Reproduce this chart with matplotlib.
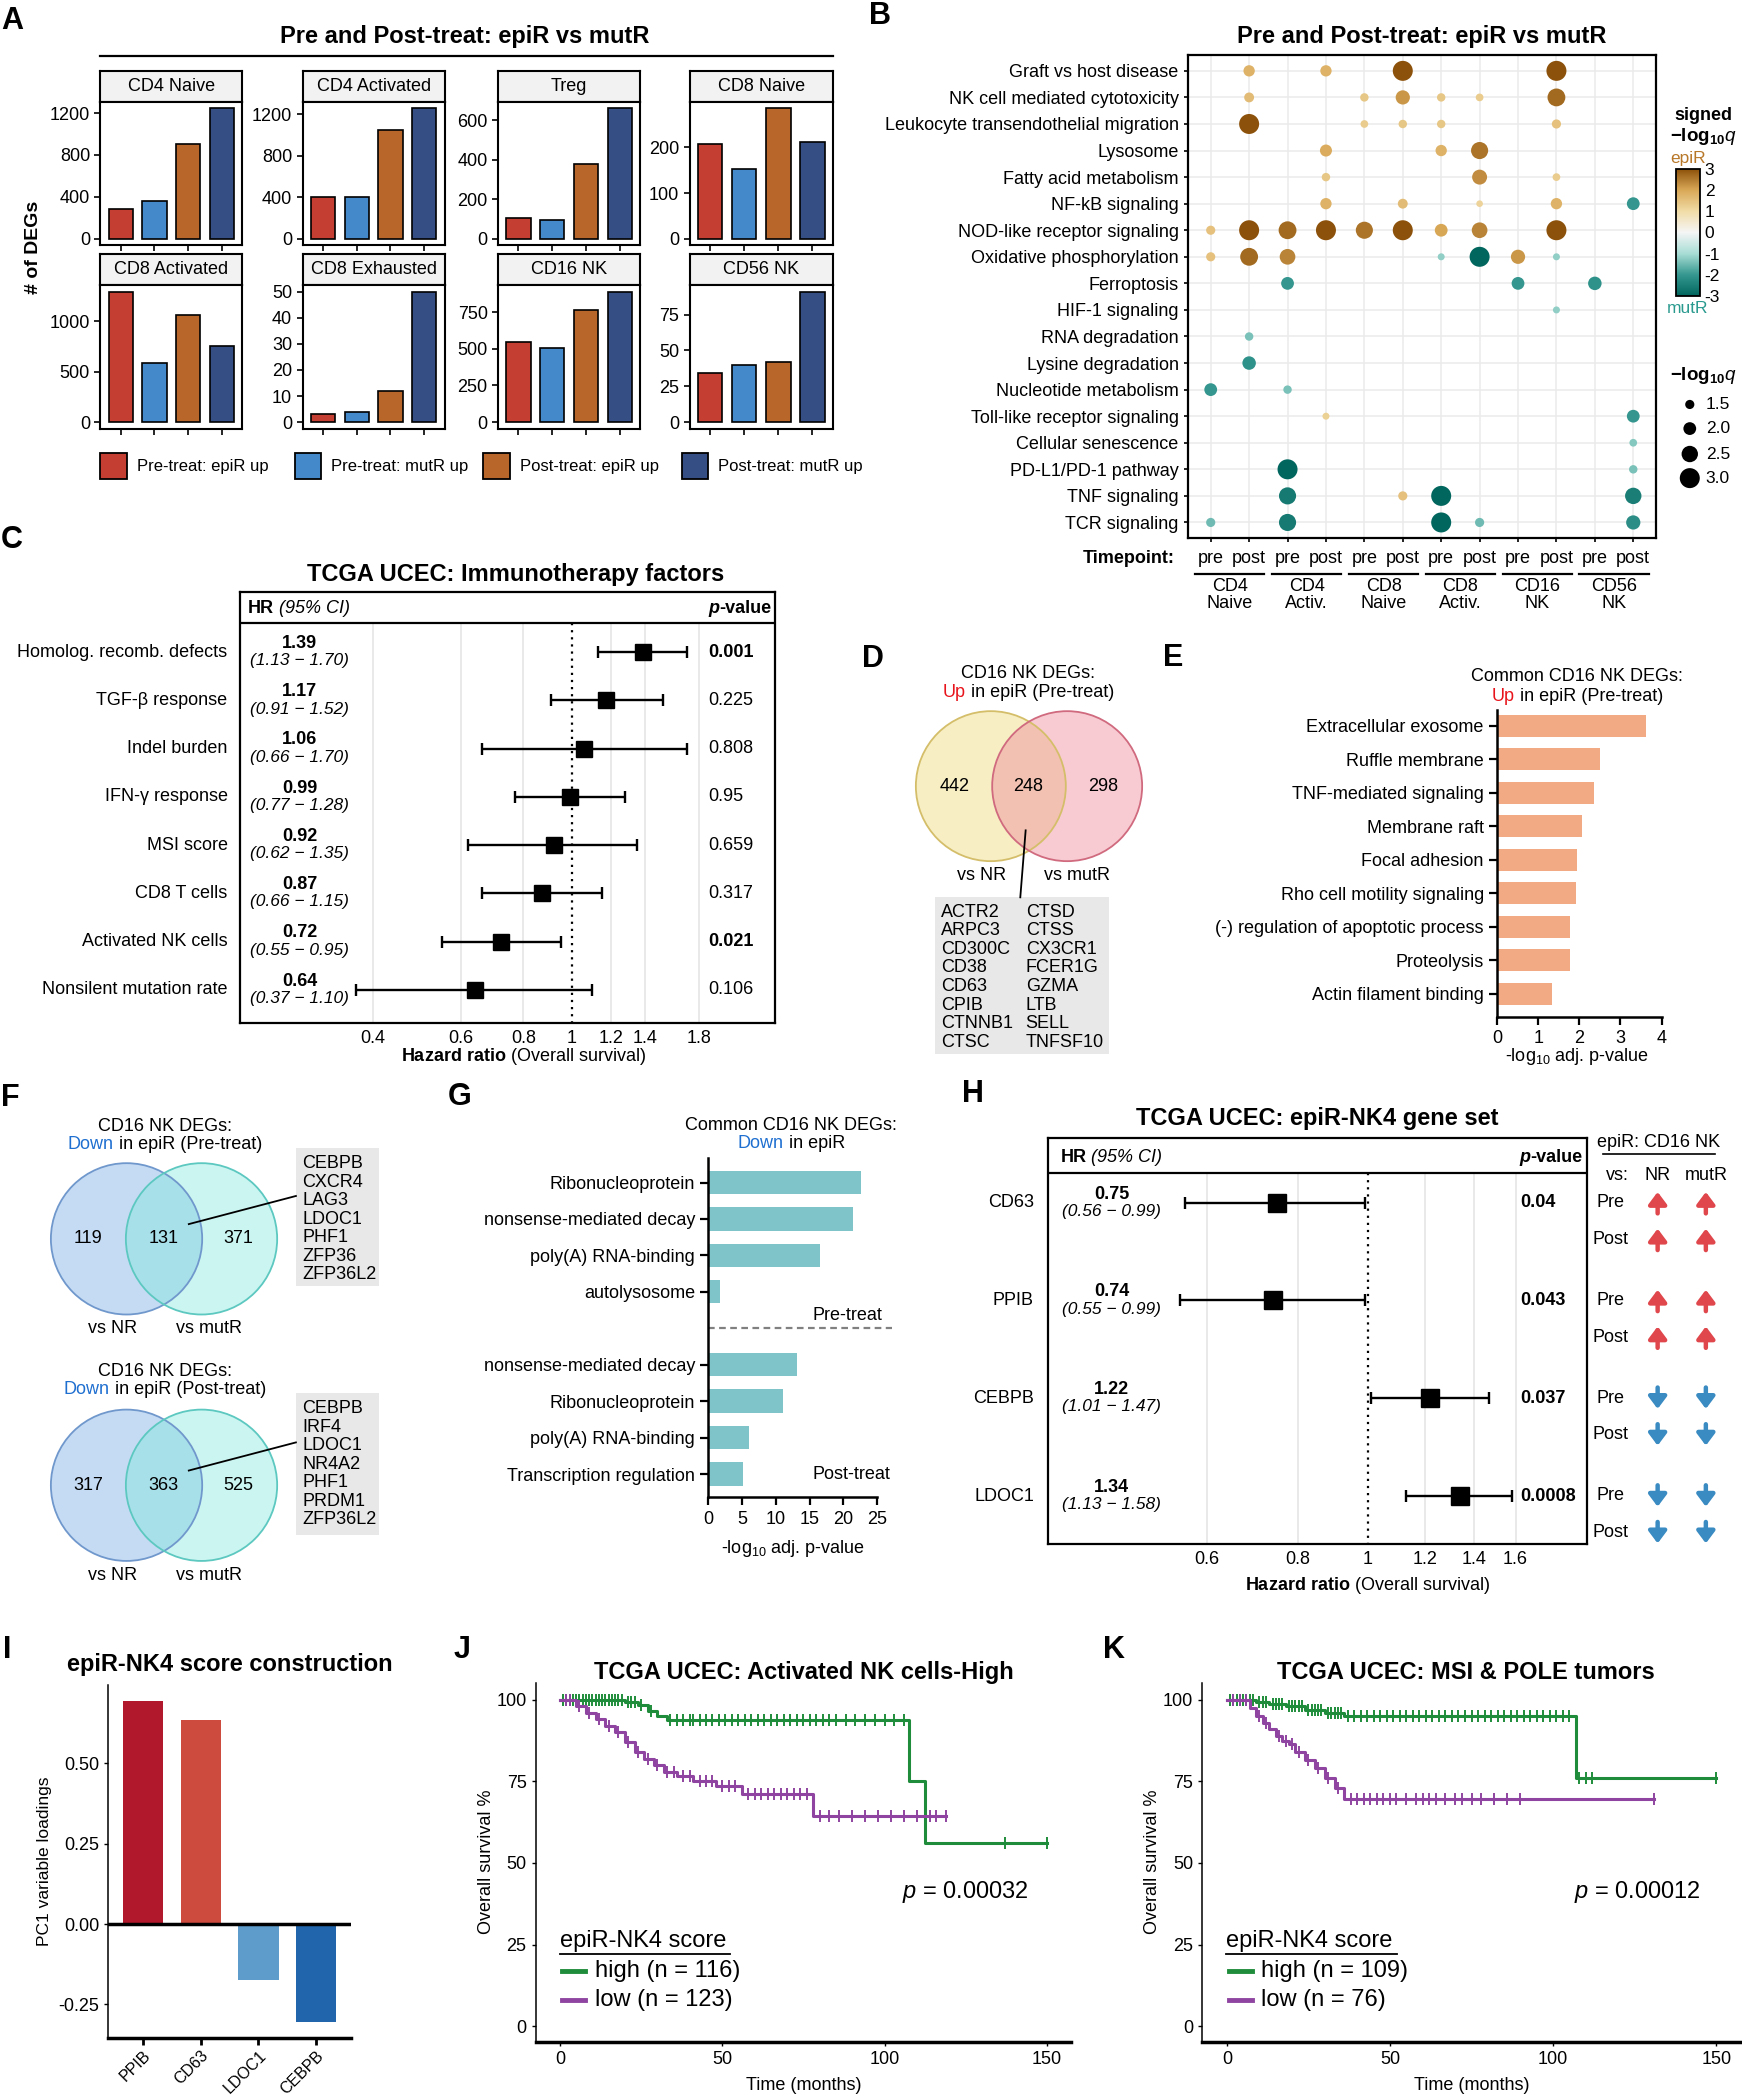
import numpy as np
import matplotlib
matplotlib.use('Agg')
import matplotlib.pyplot as plt
from matplotlib.patches import Circle, Rectangle
from matplotlib.colors import LinearSegmentedColormap, Normalize
from matplotlib.cm import ScalarMappable
from matplotlib.ticker import NullLocator

plt.rcParams['font.family'] = ['Liberation Sans', 'DejaVu Sans']
plt.rcParams['mathtext.fontset'] = 'custom'
plt.rcParams['mathtext.rm'] = 'Liberation Sans'
plt.rcParams['mathtext.it'] = 'Liberation Sans:italic'
plt.rcParams['mathtext.bf'] = 'Liberation Sans:bold'
plt.rcParams['axes.unicode_minus'] = False

# ---------------- DATA ----------------
# A
a_cells = ['CD4 Naive', 'CD4 Activated', 'Treg', 'CD8 Naive',
           'CD8 Activated', 'CD8 Exhausted', 'CD16 NK', 'CD56 NK']
a_groups = ['Pre-treat: epiR up', 'Pre-treat: mutR up', 'Post-treat: epiR up', 'Post-treat: mutR up']
pre_epiR_up = [287, 396, 103, 207, 1292, 3, 549, 34]
pre_mutR_up = [360, 405, 95, 153, 588, 4, 503, 40]
post_epiR_up = [903, 1045, 376, 286, 1063, 12, 764, 42]
post_mutR_up = [1245, 1255, 661, 213, 754, 50, 890, 91]
a_yticks = [[0, 400, 800, 1200], [0, 400, 800, 1200], [0, 200, 400, 600], [0, 100, 200],
            [0, 500, 1000], [0, 10, 20, 30, 40, 50], [0, 250, 500, 750], [0, 25, 50, 75]]

# B
b_pathways = ['Graft vs host disease', 'NK cell mediated cytotoxicity',
              'Leukocyte transendothelial migration', 'Lysosome', 'Fatty acid metabolism',
              'NF-kB signaling', 'NOD-like receptor signaling', 'Oxidative phosphorylation',
              'Ferroptosis', 'HIF-1 signaling', 'RNA degradation', 'Lysine degradation',
              'Nucleotide metabolism', 'Toll-like receptor signaling', 'Cellular senescence',
              'PD-L1/PD-1 pathway', 'TNF signaling', 'TCR signaling']
b_timepoints = ['pre', 'post'] * 6
b_celltypes = ['CD4\nNaive', 'CD4\nActiv.', 'CD8\nNaive', 'CD8\nActiv.', 'CD16\nNK', 'CD56\nNK']
b_signed_q = [
    [0, 1.8, 0, 1.8, 0, 3.0, 0, 0, 0, 3.0, 0, 0],
    [0, 1.6, 0, 0, 1.4, 2.2, 1.4, 1.3, 0, 2.7, 0, 0],
    [0, 3.0, 0, 0, 1.3, 1.4, 1.4, 0, 0, 1.5, 0, 0],
    [0, 0, 0, 1.9, 0, 0, 1.8, 2.6, 0, 0, 0, 0],
    [0, 0, 0, 1.4, 0, 0, 0, 2.3, 0, 1.3, 0, 0],
    [0, 0, 0, 1.8, 0, 1.6, 0, 1.15, 0, 1.8, 0, -2.0],
    [1.5, 3.0, 2.7, 3.0, 2.6, 3.0, 2.0, 2.4, 0, 3.0, 0, 0],
    [1.5, 2.7, 2.4, 0, 0, 0, -1.2, -3.0, 2.2, -1.2, 0, 0],
    [0, 0, -2.0, 0, 0, 0, 0, 0, -2.0, 0, -2.1, 0],
    [0, 0, 0, 0, 0, 0, 0, 0, 0, -1.2, 0, 0],
    [0, -1.4, 0, 0, 0, 0, 0, 0, 0, 0, 0, 0],
    [0, -2.1, 0, 0, 0, 0, 0, 0, 0, 0, 0, 0],
    [-2.0, 0, -1.4, 0, 0, 0, 0, 0, 0, 0, 0, 0],
    [0, 0, 0, 1.2, 0, 0, 0, 0, 0, 0, 0, -2.0],
    [0, 0, 0, 0, 0, 0, 0, 0, 0, 0, 0, -1.3],
    [0, 0, -3.0, 0, 0, 0, 0, 0, 0, 0, 0, -1.4],
    [0, 0, -2.6, 0, 0, 1.5, -3.0, 0, 0, 0, 0, -2.5],
    [-1.5, 0, -2.6, 0, 0, 0, -3.0, -1.5, 0, 0, 0, -2.2],
]
b_size_levels = [1.5, 2.0, 2.5, 3.0]

# C
c_factors = ['Homolog. recomb. defects', 'TGF-β response', 'Indel burden', 'IFN-γ response',
             'MSI score', 'CD8 T cells', 'Activated NK cells', 'Nonsilent mutation rate']
c_hr = [1.39, 1.17, 1.06, 0.99, 0.92, 0.87, 0.72, 0.64]
c_lo = [1.13, 0.91, 0.66, 0.77, 0.62, 0.66, 0.55, 0.37]
c_hi = [1.70, 1.52, 1.70, 1.28, 1.35, 1.15, 0.95, 1.10]
c_p = ['0.001', '0.225', '0.808', '0.95', '0.659', '0.317', '0.021', '0.106']
c_p_bold = [True, False, False, False, False, False, True, False]
c_ticks = [0.4, 0.6, 0.8, 1, 1.2, 1.4, 1.8]

# D
d_counts = [442, 248, 298]
d_genes_1 = ['ACTR2', 'ARPC3', 'CD300C', 'CD38', 'CD63', 'CPIB', 'CTNNB1', 'CTSC']
d_genes_2 = ['CTSD', 'CTSS', 'CX3CR1', 'FCER1G', 'GZMA', 'LTB', 'SELL', 'TNFSF10']

# E
e_terms = ['Extracellular exosome', 'Ruffle membrane', 'TNF-mediated signaling', 'Membrane raft',
           'Focal adhesion', 'Rho cell motility signaling', '(-) regulation of apoptotic process',
           'Proteolysis', 'Actin filament binding']
e_vals = [3.63, 2.51, 2.35, 2.06, 1.94, 1.91, 1.77, 1.77, 1.34]

# F
f_counts_pre = [119, 131, 371]
f_counts_post = [317, 363, 525]
f_genes_pre = ['CEBPB', 'CXCR4', 'LAG3', 'LDOC1', 'PHF1', 'ZFP36', 'ZFP36L2']
f_genes_post = ['CEBPB', 'IRF4', 'LDOC1', 'NR4A2', 'PHF1', 'PRDM1', 'ZFP36L2']

# G
g_terms_pre = ['Ribonucleoprotein', 'nonsense-mediated decay', 'poly(A) RNA-binding', 'autolysosome']
g_vals_pre = [22.6, 21.4, 16.6, 1.8]
g_terms_post = ['nonsense-mediated decay', 'Ribonucleoprotein', 'poly(A) RNA-binding', 'Transcription regulation']
g_vals_post = [13.2, 11.1, 6.1, 5.1]

# H
h_genes = ['CD63', 'PPIB', 'CEBPB', 'LDOC1']
h_hr = [0.75, 0.74, 1.22, 1.34]
h_lo = [0.56, 0.55, 1.01, 1.13]
h_hi = [0.99, 0.99, 1.47, 1.58]
h_p = ['0.04', '0.043', '0.037', '0.0008']
h_p_bold = [True, True, True, True]
h_dir = ['up', 'up', 'down', 'down']
h_ticks = [0.6, 0.8, 1, 1.2, 1.4, 1.6]

# I
i_genes = ['PPIB', 'CD63', 'LDOC1', 'CEBPB']
i_loadings = [0.695, 0.635, -0.175, -0.306]

# J
j_high_t = [0, 20, 24, 27, 30, 33, 107.5, 112.5]
j_high_s = [100, 99.2, 98.3, 96.5, 95.0, 93.7, 75.0, 56.0]
j_high_end = 150
j_high_cens = [1, 2, 3, 4, 5, 6, 7, 8, 9, 10, 11, 12, 13, 14, 15, 16, 17, 18, 19, 21, 22, 23, 25, 28,
               34, 36, 38, 40, 41, 43, 45, 47, 49, 51, 53, 55, 57, 59, 61, 63, 65, 67, 69, 71, 73, 75,
               77, 79, 81, 83, 85, 88, 91, 94, 97, 100, 103, 106, 137, 150]
j_low_t = [0, 5, 8, 11, 14, 17, 20, 23, 26, 29, 32, 36, 41, 48, 56, 78]
j_low_s = [100, 98, 96, 94, 92, 90, 87, 84, 82, 80, 78, 76.5, 75, 73.5, 71, 64.5]
j_low_end = 119
j_low_cens = [2, 3, 6, 9, 12, 15, 18, 21, 24, 27, 30, 33, 35, 38, 40, 43, 45, 47, 50, 52, 54, 58, 60,
              62, 64, 66, 68, 70, 72, 74, 76, 80, 83, 86, 90, 94, 98, 102, 106, 110, 114, 116, 119]
j_labels = ['high (n = 116)', 'low (n = 123)']
j_pval = '0.00032'

# K
k_high_t = [0, 9, 13, 18, 24, 30, 36, 107]
k_high_s = [100, 99.3, 98.7, 98.0, 97.0, 96.0, 95.0, 76.0]
k_high_end = 150
k_high_cens = [1, 2, 3, 4, 5, 6, 7, 8, 10, 11, 12, 14, 15, 16, 17, 19, 20, 21, 22, 23, 25, 26, 27, 28,
               29, 31, 32, 33, 34, 35, 37, 39, 41, 43, 45, 47, 49, 51, 53, 55, 57, 59, 61, 63, 65, 67,
               69, 71, 73, 75, 77, 79, 81, 83, 85, 87, 89, 91, 93, 95, 97, 99, 101, 103, 105, 108,
               110, 112, 150]
k_low_t = [0, 7, 9, 11, 13, 15, 17, 19, 21, 24, 27, 30, 33, 36]
k_low_s = [100, 97.5, 95, 93, 91, 89, 87.5, 86.5, 84, 81.5, 79, 76, 73, 69.5]
k_low_end = 131
k_low_cens = [2, 4, 6, 10, 12, 16, 18, 20, 22, 25, 28, 31, 34, 38, 40, 42, 44, 46, 48, 50, 52, 55, 58,
              60, 62, 64, 67, 70, 72, 75, 78, 82, 86, 90, 131]
k_labels = ['high (n = 109)', 'low (n = 76)']
k_pval = '0.00012'

# ---------------- FIGURE ----------------
W, H = 1301.0, 1568.0
FS = 13
TFS = 17
fig = plt.figure(figsize=(17.42, 21.0), dpi=100)
ov = fig.add_axes([0, 0, 1, 1], zorder=10)
ov.set_xlim(0, W)
ov.set_ylim(H, 0)
ov.axis('off')
ov.patch.set_alpha(0)


def add_ax(x0, y0, x1, y1, **kw):
    return fig.add_axes([x0 / W, 1 - y1 / H, (x1 - x0) / W, (y1 - y0) / H], **kw)


center_jobs = []


def colored_line(xc, y, parts, fs=FS):
    t0 = ov.text(0, y, parts[0][0], color=parts[0][1], fontsize=fs, ha='left', va='center')
    texts = [t0]
    prev = t0
    for s, c in parts[1:]:
        t = ov.annotate(s, xy=(1, 0), xycoords=prev, ha='left', va='bottom', color=c, fontsize=fs)
        texts.append(t)
        prev = t
    center_jobs.append((texts, xc))


RED_UP = '#E8141C'
BLUE_DN = '#1F6FD0'

# panel letters
for lab, (x, y) in {'A': (9, 16), 'B': (657, 12), 'C': (9, 403), 'D': (652, 492), 'E': (876, 491),
                    'F': (8, 820), 'G': (343, 819), 'H': (727, 817), 'I': (5, 1232), 'J': (345, 1232),
                    'K': (832, 1232)}.items():
    ov.text(x, y, lab, fontsize=22, fontweight='bold', ha='center', va='center')

# ---------------- A ----------------
a_colors = ['#C43F31', '#4489CA', '#B9662B', '#354F85']
a_series = [pre_epiR_up, pre_mutR_up, post_epiR_up, post_mutR_up]
colx = [(75, 181), (226, 332), (372, 478), (515, 622)]
rowy = [((53, 76), (76, 183)), ((190, 213), (213, 320))]
ov.text(347, 27, 'Pre and Post-treat: epiR vs mutR', fontsize=TFS, fontweight='bold', ha='center', va='center')
ov.plot([75, 622], [42, 42], color='black', lw=1.6)
for k, cell in enumerate(a_cells):
    r, c = divmod(k, 4)
    (sy0, sy1), (py0, py1) = rowy[r]
    x0, x1 = colx[c]
    sax = add_ax(x0, sy0, x1, sy1)
    sax.set_facecolor('#F2F2F2')
    sax.set_xticks([]); sax.set_yticks([])
    for sp in sax.spines.values():
        sp.set_linewidth(1.5)
    sax.text(0.5, 0.5, cell, ha='center', va='center', fontsize=FS, transform=sax.transAxes)
    ax = add_ax(x0, py0, x1, py1)
    vals = [s[k] for s in a_series]
    ax.bar(range(1, 5), vals, width=0.72, color=a_colors, edgecolor='black', linewidth=1.2)
    mx = max(vals)
    ax.set_ylim(-0.05 * mx, 1.05 * mx)
    ax.set_xlim(0.4, 4.6)
    ax.set_xticks(range(1, 5))
    ax.set_xticklabels([])
    ax.set_yticks(a_yticks[k])
    ax.tick_params(labelsize=FS, length=4, width=1.2)
    for sp in ax.spines.values():
        sp.set_linewidth(1.5)
ov.text(25, 185, '# of DEGs', rotation=90, fontsize=14, fontweight='bold', ha='center', va='center')
for x, col, lab in zip([75, 220, 361, 509], a_colors, a_groups):
    ov.add_patch(Rectangle((x, 338), 20, 20, facecolor=col, edgecolor='black', lw=1.3))
    ov.text(x + 27, 348, lab, fontsize=12, ha='left', va='center')

# ---------------- B ----------------
b_cmap = LinearSegmentedColormap.from_list('b', [(0, '#01665E'), (1 / 6, '#35978F'), (2 / 6, '#A8DDD5'),
                                                 (0.5, '#F5F5F5'), (4 / 6, '#F1DCA6'), (5 / 6, '#D9A857'),
                                                 (1, '#8C510A')])


def dot_size(m):
    d_px = 7 + (np.asarray(m) - 1.2) / 1.8 * 13
    return (d_px * 0.72) ** 2


ov.text(1062, 27, 'Pre and Post-treat: epiR vs mutR', fontsize=TFS, fontweight='bold', ha='center', va='center')
axB = add_ax(887, 41, 1237, 402)
bx, by, bv = [], [], []
for i, row in enumerate(b_signed_q):
    for j, v in enumerate(row):
        if v != 0:
            bx.append(j + 1); by.append(i + 1); bv.append(v)
bv = np.array(bv)
axB.scatter(bx, by, s=dot_size(np.abs(bv)), c=bv, cmap=b_cmap, vmin=-3, vmax=3, edgecolors='none', zorder=3)
axB.set_xlim(0.4, 12.6)
axB.set_ylim(18.6, 0.4)
axB.set_xticks(range(1, 13))
axB.set_xticklabels([])
axB.set_yticks(range(1, 19))
axB.set_yticklabels(b_pathways, fontsize=FS)
axB.grid(True, color='#EBEBEB', lw=1.1, zorder=0)
axB.set_axisbelow(True)
axB.tick_params(length=3, width=1.2)
for sp in axB.spines.values():
    sp.set_linewidth(1.6)
xtr = axB.get_xaxis_transform()
for j, tp in enumerate(b_timepoints):
    axB.text(j + 1, -0.042, tp, transform=xtr, ha='center', va='center', fontsize=FS)
for g, ct in enumerate(b_celltypes):
    axB.plot([2 * g + 1 - 0.4, 2 * g + 2 + 0.4], [-0.073, -0.073], transform=xtr, clip_on=False,
             color='black', lw=1.6)
    axB.text(2 * g + 1.5, -0.117, ct, transform=xtr, ha='center', va='center', fontsize=FS, linespacing=1.05)
ov.text(877, 417, 'Timepoint:', ha='right', va='center', fontsize=FS, fontweight='bold')
cax = add_ax(1252, 126, 1270, 221)
cb = fig.colorbar(ScalarMappable(norm=Normalize(-3, 3), cmap=b_cmap), cax=cax, ticks=[-3, -2, -1, 0, 1, 2, 3])
cb.outline.set_linewidth(1.3)
cb.ax.tick_params(labelsize=12.5, length=0, pad=3)
ov.text(1272, 86, 'signed', fontsize=13, fontweight='bold', ha='center', va='center')
ov.text(1272, 102, r'$\mathbf{-log_{10}}\mathit{q}$', fontsize=13.5, ha='center', va='center')
ov.text(1261, 118, 'epiR', color='#B8782A', fontsize=12.5, ha='center', va='center')
ov.text(1260, 230, 'mutR', color='#2A9A8E', fontsize=12.5, ha='center', va='center')
ov.text(1272, 280, r'$\mathbf{-log_{10}}\mathit{q}$', fontsize=13.5, ha='center', va='center')
ly = [302, 320, 339, 357]
ov.scatter([1262] * 4, ly, s=dot_size(b_size_levels), c='black', edgecolors='none')
for yy, lv in zip(ly, b_size_levels):
    ov.text(1274, yy, f'{lv:.1f}', fontsize=12.5, ha='left', va='center')


# ---------------- forest helper ----------------
def forest(ax, labels, hr, lo, hi, pv, pbold, xlim, ticks, ytop, ybot, hdr_line, hdr_y, off, fx, ms):
    n = len(labels)
    y = np.arange(n)
    hr = np.array(hr); lo = np.array(lo); hi = np.array(hi)
    ax.set_xscale('log')
    ax.set_xlim(*xlim)
    ax.set_ylim(ybot, ytop)
    for t in ticks:
        if t != 1:
            ax.plot([t, t], [hdr_line, ybot], color='#E3E3E3', lw=1.1, zorder=0)
    ax.plot([1, 1], [hdr_line, ybot], color='black', ls=(0, (1, 2.2)), lw=1.6, zorder=1)
    ax.axhline(hdr_line, color='black', lw=1.6)
    ax.errorbar(hr, y, xerr=[hr - lo, hi - hr], fmt='s', color='black', ms=ms, capsize=4.5,
                elinewidth=1.7, capthick=1.7, zorder=3)
    tr = ax.get_yaxis_transform()
    for i in range(n):
        ax.text(fx['lab'], i, labels[i], transform=tr, ha='right', va='center', fontsize=FS)
        ax.text(fx['hrc'], i - off, f'{hr[i]:.2f}', transform=tr, ha='center', va='center',
                fontsize=FS, fontweight='bold')
        ax.text(fx['hrc'], i + off, f'({lo[i]:.2f} \u2212 {hi[i]:.2f})', transform=tr, ha='center',
                va='center', fontsize=12.5, style='italic')
        ax.text(fx['pl'], i, pv[i], transform=tr, ha='left', va='center', fontsize=FS,
                fontweight='bold' if pbold[i] else 'normal')
    t1 = ax.text(fx['hdr'], hdr_y, 'HR', transform=tr, ha='left', va='center', fontsize=FS, fontweight='bold')
    ax.annotate(' (95% CI)', xy=(1, 0), xycoords=t1, ha='left', va='bottom', fontsize=FS, style='italic')
    t2 = ax.text(fx['pvr'], hdr_y, '-value', transform=tr, ha='right', va='center', fontsize=FS, fontweight='bold')
    ax.annotate('p', xy=(0, 0), xycoords=t2, ha='right', va='bottom', fontsize=FS, fontweight='bold',
                style='italic')
    ax.set_yticks([])
    ax.set_xticks(ticks)
    ax.set_xticklabels([f'{t:g}' for t in ticks])
    ax.xaxis.set_minor_locator(NullLocator())
    ax.tick_params(axis='x', length=0, labelsize=FS, pad=5)
    for sp in ax.spines.values():
        sp.set_linewidth(1.6)


# ---------------- C ----------------
ov.text(385, 429, 'TCGA UCEC: Immunotherapy factors', fontsize=TFS, fontweight='bold', ha='center', va='center')
axC = add_ax(179, 442, 579, 764)
forest(axC, c_factors, c_hr, c_lo, c_hi, c_p, c_p_bold,
       (np.exp(-1.531), np.exp(0.938)), c_ticks, -1.25, 7.694, -0.611, -0.917, 0.18,
       dict(lab=-0.0225, hrc=0.1125, pl=0.875, hdr=0.015, pvr=0.9925), 12)
ov.text(391, 789, r'$\mathbf{Hazard\ ratio}$ (Overall survival)', fontsize=FS, ha='center', va='center')

# ---------------- D ----------------
ov.text(768, 503, 'CD16 NK DEGs:', fontsize=FS, ha='center', va='center')
colored_line(768, 517, [('Up', RED_UP), (' in epiR (Pre-treat)', 'black')])
ov.add_patch(Circle((740, 587), 56, facecolor='#F7EEC4', edgecolor='none', zorder=1))
ov.add_patch(Circle((797, 587), 56, facecolor='#F08C9C', alpha=0.45, edgecolor='none', zorder=2))
ov.add_patch(Circle((740, 587), 56, facecolor='none', edgecolor='#D4BE6A', lw=1.3, zorder=3))
ov.add_patch(Circle((797, 587), 56, facecolor='none', edgecolor='#D06A7E', lw=1.3, zorder=3))
for x, n in zip([713, 768, 824], d_counts):
    ov.text(x, 587, str(n), fontsize=FS, ha='center', va='center', zorder=4)
ov.text(733, 654, 'vs NR', fontsize=FS, ha='center', va='center')
ov.text(804, 654, 'vs mutR', fontsize=FS, ha='center', va='center')
ov.plot([766, 762], [620, 670], color='black', lw=1.3, zorder=4)
ov.add_patch(Rectangle((698, 670), 130, 117, facecolor='#E8E8E8', edgecolor='none', zorder=1))
for k, (g1, g2) in enumerate(zip(d_genes_1, d_genes_2)):
    ov.text(703, 681 + k * 13.9, g1, fontsize=FS, ha='left', va='center', zorder=4)
    ov.text(766, 681 + k * 13.9, g2, fontsize=FS, ha='left', va='center', zorder=4)

# ---------------- E ----------------
ov.text(1178, 505, 'Common CD16 NK DEGs:', fontsize=FS, ha='center', va='center')
colored_line(1178, 520, [('Up', RED_UP), (' in epiR (Pre-treat)', 'black')])
axE = add_ax(1118, 530, 1241, 759)
axE.barh(range(len(e_terms)), e_vals, height=0.66, color='#F2AA85')
axE.set_ylim(8.68, -0.48)
axE.set_xlim(0, 4)
axE.set_yticks(range(len(e_terms)))
axE.set_yticklabels(e_terms, fontsize=FS)
axE.set_xticks([0, 1, 2, 3, 4])
axE.tick_params(labelsize=FS, length=6, width=1.6)
for s in ['top', 'right']:
    axE.spines[s].set_visible(False)
for s in ['left', 'bottom']:
    axE.spines[s].set_linewidth(1.8)
ov.text(1178, 789, r'-log$_{10}$ adj. p-value', fontsize=FS, ha='center', va='center')

# ---------------- F ----------------
for (yc, ttl_y, counts, genes, gbox, line, when) in [
        (925, 841, f_counts_pre, f_genes_pre, (857, 960), ((141, 914), (221, 893)), ' in epiR (Pre-treat)'),
        (1109, 1024, f_counts_post, f_genes_post, (1040, 1146), ((141, 1098), (221, 1077)), ' in epiR (Post-treat)')]:
    ov.text(123, ttl_y, 'CD16 NK DEGs:', fontsize=FS, ha='center', va='center')
    colored_line(123, ttl_y + 13.5, [('Down', BLUE_DN), (when, 'black')])
    ov.add_patch(Circle((94.5, yc), 56.5, facecolor='#C5DBF4', edgecolor='none', zorder=1))
    ov.add_patch(Circle((150.5, yc), 56.5, facecolor='#7DE8DC', alpha=0.4, edgecolor='none', zorder=2))
    ov.add_patch(Circle((94.5, yc), 56.5, facecolor='none', edgecolor='#7098CC', lw=1.3, zorder=3))
    ov.add_patch(Circle((150.5, yc), 56.5, facecolor='none', edgecolor='#5CC8C0', lw=1.3, zorder=3))
    for x, n in zip([66, 122, 178], counts):
        ov.text(x, yc, str(n), fontsize=FS, ha='center', va='center', zorder=4)
    ov.text(84, yc + 67, 'vs NR', fontsize=FS, ha='center', va='center')
    ov.text(156, yc + 67, 'vs mutR', fontsize=FS, ha='center', va='center')
    ov.add_patch(Rectangle((221, gbox[0]), 62, gbox[1] - gbox[0], facecolor='#E8E8E8', edgecolor='none', zorder=1))
    for k, g in enumerate(genes):
        ov.text(226, gbox[0] + 12 + k * 13.8, g, fontsize=FS, ha='left', va='center', zorder=4)
    ov.plot([line[0][0], line[1][0]], [line[0][1], line[1][1]], color='black', lw=1.3, zorder=4)

# ---------------- G ----------------
ov.text(591, 840, 'Common CD16 NK DEGs:', fontsize=FS, ha='center', va='center')
colored_line(591, 854, [('Down', BLUE_DN), (' in epiR', 'black')])
axG = add_ax(529, 865, 655, 1118)
g_pos = [0, 1, 2, 3, 5, 6, 7, 8]
axG.barh(g_pos, g_vals_pre + g_vals_post, height=0.64, color='#7EC4C8')
axG.set_ylim(8.64, -0.66)
axG.set_xlim(0, 25)
axG.set_yticks(g_pos)
axG.set_yticklabels(g_terms_pre + g_terms_post, fontsize=FS)
axG.set_xticks([0, 5, 10, 15, 20, 25])
axG.tick_params(labelsize=FS, length=6, width=1.6)
for s in ['top', 'right']:
    axG.spines[s].set_visible(False)
for s in ['left', 'bottom']:
    axG.spines[s].set_linewidth(1.8)
axG.plot([0, 27.2], [4, 4], ls=(0, (3, 2)), color='#808080', lw=1.6, clip_on=False)
axG.text(25.8, 3.65, 'Pre-treat', ha='right', va='center', fontsize=FS)
axG.text(27.0, 8.0, 'Post-treat', ha='right', va='center', fontsize=FS)
ov.text(592, 1156, r'-log$_{10}$ adj. p-value', fontsize=FS, ha='center', va='center')

# ---------------- H ----------------
ov.text(984, 835, 'TCGA UCEC: epiR-NK4 gene set', fontsize=TFS, fontweight='bold', ha='center', va='center')
axH = add_ax(783, 850, 1185, 1153)
forest(axH, h_genes, h_hr, h_lo, h_hi, h_p, h_p_bold,
       (np.exp(-1.015), np.exp(0.696)), h_ticks, -0.658, 3.493, -0.301, -0.466, 0.089,
       dict(lab=-0.027, hrc=0.117, pl=0.876, hdr=0.022, pvr=0.9925), 12.5)
ov.text(1021, 1184, r'$\mathbf{Hazard\ ratio}$ (Overall survival)', fontsize=FS, ha='center', va='center')
ov.text(1239, 853, 'epiR: CD16 NK', fontsize=FS, ha='center', va='center')
ov.plot([1197, 1281], [862, 862], color='black', lw=1.2)
ov.text(1208, 878, 'vs:', fontsize=FS, ha='center', va='center')
ov.text(1238, 878, 'NR', fontsize=FS, ha='center', va='center')
ov.text(1274, 878, 'mutR', fontsize=FS, ha='center', va='center')
for i, d in enumerate(h_dir):
    yrow = 898 + 73 * i
    col = '#E0474C' if d == 'up' else '#3A8BC2'
    for yy, tp in [(yrow, 'Pre'), (yrow + 27.4, 'Post')]:
        ov.text(1203, yy, tp, fontsize=FS, ha='center', va='center')
        for xa in [1238, 1274]:
            if d == 'up':
                xy, xyt = (xa, yy - 8), (xa, yy + 8)
            else:
                xy, xyt = (xa, yy + 8), (xa, yy - 8)
            ov.annotate('', xy=xy, xytext=xyt,
                        arrowprops=dict(arrowstyle='-|>,head_length=0.6,head_width=0.45', lw=3.2,
                                        color=col, shrinkA=0, shrinkB=0, mutation_scale=12))

# ---------------- I ----------------
ov.text(172, 1243, 'epiR-NK4 score construction', fontsize=TFS, fontweight='bold', ha='center', va='center')
axI = add_ax(81, 1258, 262, 1522)
i_colors = ['#B2182B', '#CC4A3E', '#5D9CCB', '#2166AC']
axI.bar(range(1, 5), i_loadings, width=0.7, color=i_colors)
axI.axhline(0, color='black', lw=2.5)
axI.set_xlim(0.4, 4.6)
axI.set_ylim(-0.356, 0.745)
axI.set_yticks([-0.25, 0, 0.25, 0.5])
axI.set_yticklabels(['-0.25', '0.00', '0.25', '0.50'])
axI.set_xticks(range(1, 5))
axI.set_xticklabels(i_genes, rotation=45, ha='right', rotation_mode='anchor')
axI.tick_params(axis='y', labelsize=13, length=3, width=1)
axI.tick_params(axis='x', labelsize=11.5, length=5, width=2, pad=2)
for s in ['top', 'right']:
    axI.spines[s].set_visible(False)
axI.spines['bottom'].set_linewidth(2.5)
axI.spines['left'].set_linewidth(1.1)
ov.text(33, 1390, 'PC1 variable loadings', rotation=90, fontsize=12.5, ha='center', va='center')


# ---------------- J / K ----------------
def km(ax, hi_t, hi_s, hi_end, hi_c, lo_t, lo_s, lo_end, lo_c):
    for t, s, end, cens, col in [(hi_t, hi_s, hi_end, hi_c, '#1E8C3A'), (lo_t, lo_s, lo_end, lo_c, '#8E44A0')]:
        ax.step(list(t) + [end], list(s) + [s[-1]], where='post', color=col, lw=2.2)
        idx = np.searchsorted(np.array(t), np.array(cens), side='right') - 1
        ax.plot(cens, np.array(s)[idx], ls='none', marker='|', ms=8, mew=1.4, color=col)
    ax.set_xlim(-7.5, 157.5)
    ax.set_ylim(-5, 105)
    ax.set_xticks([0, 50, 100, 150])
    ax.set_yticks([0, 25, 50, 75, 100])
    ax.tick_params(labelsize=13, length=3, width=1)
    for sname in ['top', 'right']:
        ax.spines[sname].set_visible(False)
    ax.spines['bottom'].set_linewidth(2.5)
    ax.spines['left'].set_linewidth(1.1)


axJ = add_ax(400, 1257, 800, 1525)
km(axJ, j_high_t, j_high_s, j_high_end, j_high_cens, j_low_t, j_low_s, j_low_end, j_low_cens)
axK = add_ax(898, 1257, 1300, 1525)
km(axK, k_high_t, k_high_s, k_high_end, k_high_cens, k_low_t, k_low_s, k_low_end, k_low_cens)
ov.text(600, 1249, 'TCGA UCEC: Activated NK cells-High', fontsize=TFS, fontweight='bold', ha='center', va='center')
ov.text(1095, 1249, 'TCGA UCEC: MSI & POLE tumors', fontsize=TFS, fontweight='bold', ha='center', va='center')
for xl, xc, xr, labels, pv in [(418, 600, 768, j_labels, j_pval), (916, 1099, 1270, k_labels, k_pval)]:
    ov.text(xl - 55, 1390, 'Overall survival %', rotation=90, fontsize=13, ha='center', va='center')
    ov.text(xc, 1557, 'Time (months)', fontsize=13, ha='center', va='center')
    ov.text(xr, 1413, r'$\it{p}$ = ' + pv, fontsize=17, ha='right', va='center')
    ov.text(xl, 1449, 'epiR-NK4 score', fontsize=17, ha='left', va='center')
    ov.plot([xl, xl + 127], [1459, 1459], color='black', lw=1.3)
    for yy, lab, col in [(1472, labels[0], '#1E8C3A'), (1493, labels[1], '#8E44A0')]:
        ov.plot([xl + 2, xl + 19], [yy, yy], color=col, lw=3.5)
        ov.text(xl + 26, yy, lab, fontsize=17, ha='left', va='center')

# center the colored multi-part lines
fig.canvas.draw()
r = fig.canvas.get_renderer()
for texts, xc in center_jobs:
    x0 = texts[0].get_window_extent(r).x0
    x1 = texts[-1].get_window_extent(r).x1
    w = x1 - x0
    target = ov.transData.transform((xc, 0))[0] - w / 2
    texts[0].set_x(ov.transData.inverted().transform((target, 0))[0])

fig.savefig('out.png', dpi=100)
